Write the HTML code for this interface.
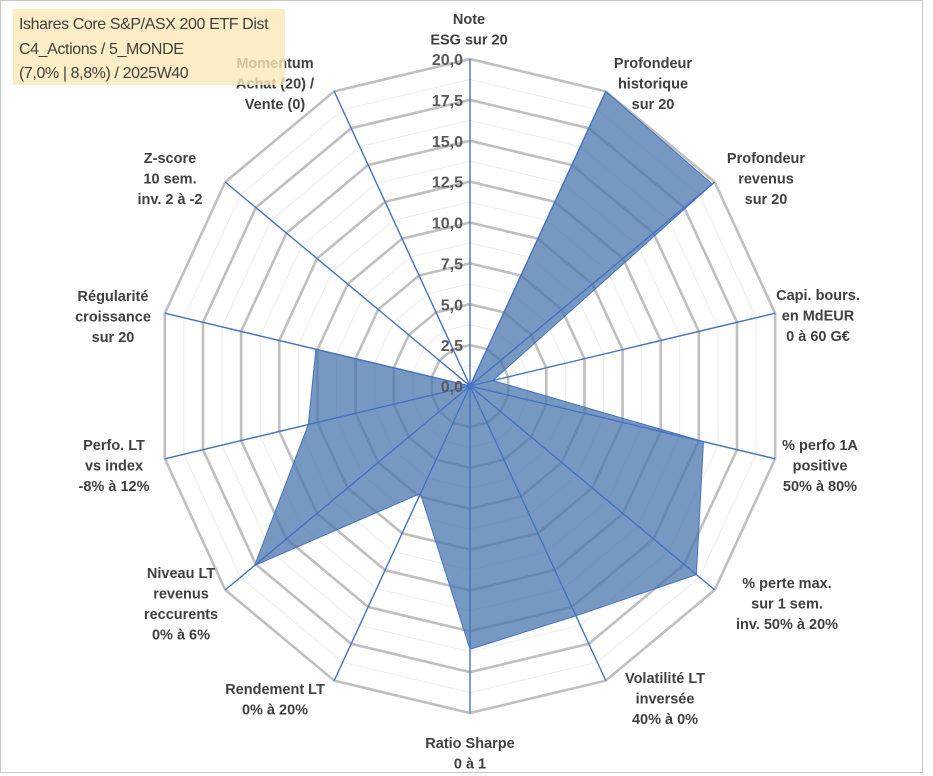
<!DOCTYPE html>
<html><head><meta charset="utf-8">
<style>
html,body{margin:0;padding:0;background:#fff;}
#wrap{position:relative;width:933px;height:776px;overflow:hidden;font-family:"Liberation Sans",sans-serif;}
svg{position:absolute;left:0;top:0;}
.lbl{font-weight:bold;font-size:14.5px;fill:#404040;text-anchor:middle;}
.tick{font-weight:bold;font-size:16px;fill:#595959;text-anchor:end;}
#legend{position:absolute;left:13px;top:9px;width:272px;height:76px;background:rgba(253,232,182,0.78);color:#404040;font-size:16px;line-height:24.5px;padding:4px 0 0 6px;box-sizing:border-box;white-space:nowrap;letter-spacing:-0.4px;}
</style></head>
<body>
<div id="wrap">
<svg id="chart" width="933" height="776"></svg>
<div id="legend">Ishares Core S&amp;P/ASX 200 ETF Dist<br>C4_Actions / 5_MONDE<br>(7,0% | 8,8%) / 2025W40</div>
</div>
<script>
const categories = [
 ["Note","ESG sur 20"],
 ["Profondeur","historique","sur 20"],
 ["Profondeur","revenus","sur 20"],
 ["Capi. bours.","en MdEUR","0 à 60 G€"],
 ["% perfo 1A","positive","50% à 80%"],
 ["% perte max.","sur 1 sem.","inv. 50% à 20%"],
 ["Volatilité LT","inversée","40% à 0%"],
 ["Ratio Sharpe","0 à 1"],
 ["Rendement LT","0% à 20%"],
 ["Niveau LT","revenus","reccurents","0% à 6%"],
 ["Perfo. LT","vs index","-8% à 12%"],
 ["Régularité","croissance","sur 20"],
 ["Z-score","10 sem.","inv. 2 à -2"],
 ["Momentum","Achat (20) /","Vente (0)"]
];
const values = [0, 20, 19.8, 1.5, 15.3, 18.5, 15.6, 16.1, 7.3, 17.6, 10.6, 10.1, 0, 0];
const tickLabels = ["0,0","2,5","5,0","7,5","10,0","12,5","15,0","17,5","20,0"];
const tickValues = [0,2.5,5,7.5,10,12.5,15,17.5,20];
const labelPos = [[469,19],[653,63],[766,158],[818,295],[820,445],[787,583],[665,678],[470,743],[275,689],[181,573],[114,445],[113,296],[170,158],[275,63]];

const svg=document.getElementById('chart');
const NS='http://www.w3.org/2000/svg';
const cx=470, cy=386, RX=313, RY=327, MAX=20;
const N=categories.length;
function pt(i,v){const a=2*Math.PI*i/N;return [cx+Math.sin(a)*RX*v/MAX, cy-Math.cos(a)*RY*v/MAX];}
function mk(tag,attrs){const e=document.createElementNS(NS,tag);for(const k in attrs)e.setAttribute(k,attrs[k]);svg.appendChild(e);return e;}

let fr=mk('rect',{x:0.5,y:0.5,width:922,height:772,fill:'none',stroke:'#c8c8c8','stroke-width':1});



for(let k=1;k<=16;k++){
 const v=k*1.25; if(k%2===0) continue;
 const p=[];for(let i=0;i<N;i++)p.push(pt(i,v).join(','));
 const e=mk('polygon',{points:p.join(' '),fill:'none',stroke:'#ececec','stroke-width':1});
 
 
}
tickValues.forEach(v=>{
 if(v===0)return;
 const p=[];for(let i=0;i<N;i++)p.push(pt(i,v).join(','));
 const e=mk('polygon',{points:p.join(' '),fill:'none',stroke:'#bfbfbf','stroke-width':2.6});
 
 
});
const sp=values.map((v,i)=>pt(i,v).join(',')).join(' ');
const poly=mk('polygon',{points:sp,fill:'rgba(74,118,172,0.75)',stroke:'#4472c4','stroke-width':1});


for(let i=0;i<N;i++){
 const [x,y]=pt(i,MAX);
 const l=mk('line',{x1:cx,y1:cy,x2:x,y2:y,stroke:'#4472c4','stroke-width':1.4});
 
 
}
tickValues.forEach((v,k)=>{
 const y=cy-RY*v/MAX;
 const t=mk('text',{x:463,y:y+6,class:'tick'});
 t.textContent=tickLabels[k];
 
 
});
categories.forEach((lines,i)=>{
 const [x,y]=labelPos[i];
 const t=mk('text',{x:x,y:y+5,class:'lbl'});
 
 
 lines.forEach((s,j)=>{
  const ts=document.createElementNS(NS,'tspan');
  ts.setAttribute('x',x);ts.setAttribute('dy',j===0?0:20.5);
  ts.textContent=s;t.appendChild(ts);
 });
});
</script>
</body></html>
